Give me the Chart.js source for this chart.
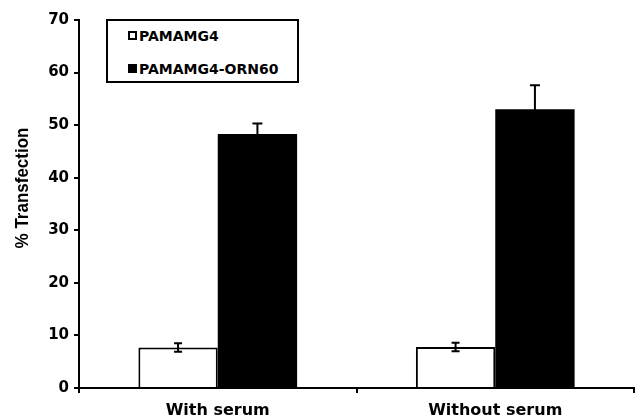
<!DOCTYPE html>
<html>
<head>
<meta charset="utf-8">
<script src="https://cdn.jsdelivr.net/npm/chart.js@4"></script>
<style>
  html, body { margin: 0; padding: 0; background: #fff; }
  #wrap { position: relative; width: 640px; height: 420px; }
  #legend {
    position: absolute; left: 106px; top: 19px; width: 193px; height: 64px;
    box-sizing: border-box; border: 2px solid #000; background: #fff;
    font: bold 14px "DejaVu Sans", sans-serif; color: #000;
  }
  .item { position: absolute; left: 20px; height: 16px; line-height: 16px; white-space: nowrap; }
  .sw { display: inline-block; width: 9px; height: 9px; box-sizing: border-box; border: 2px solid #000; margin-right: 2px; vertical-align: 1px; }
</style>
</head>
<body>
<div id="wrap">
  <canvas id="chart" width="640" height="420"></canvas>
  <div id="legend"></div>
</div>
<script>
// data
const categories = ['With serum', 'Without serum'];
const seriesNames = ['PAMAMG4', 'PAMAMG4-ORN60'];
const pamamValues = [7.7, 7.8];
const pamamErrors = [0.8, 0.8];
const ornValues = [48.3, 53.0];
const ornErrors = [2.0, 4.6];
const yMin = 0, yMax = 70, yStep = 10;
const yTitle = '% Transfection';

// legend built from the series names
const fills = ['#fff', '#000'];
const legendDiv = document.getElementById('legend');
seriesNames.forEach((name, i) => {
  const it = document.createElement('div');
  it.className = 'item';
  it.style.top = (i === 0 ? 7 : 40) + 'px';
  const sw = document.createElement('span');
  sw.className = 'sw';
  sw.style.background = fills[i];
  it.appendChild(sw);
  it.appendChild(document.createTextNode(name));
  legendDiv.appendChild(it);
});

// error bars drawn through the y scale
const errorBars = {
  id: 'errorBars',
  afterDatasetsDraw(chart) {
    const ctx = chart.ctx;
    const y = chart.scales.y;
    chart.data.datasets.forEach((ds, di) => {
      const meta = chart.getDatasetMeta(di);
      meta.data.forEach((bar, i) => {
        const v = ds.data[i], e = ds.errors[i];
        const top = y.getPixelForValue(v + e);
        const bot = y.getPixelForValue(v - e);
        const half = di === 0 ? 4 : 5;
        ctx.save();
        ctx.strokeStyle = '#000';
        ctx.lineWidth = 2;
        ctx.beginPath();
        ctx.moveTo(bar.x, top); ctx.lineTo(bar.x, bot);
        ctx.moveTo(bar.x - half, top); ctx.lineTo(bar.x + half, top);
        ctx.moveTo(bar.x - half, bot); ctx.lineTo(bar.x + half, bot);
        ctx.stroke();
        ctx.restore();
      });
    });
  }
};

// y title placed like the original (a bit above centre)
const sideTitle = {
  id: 'sideTitle',
  afterDraw(chart) {
    const ctx = chart.ctx;
    ctx.save();
    ctx.translate(23, 188);
    ctx.rotate(-Math.PI / 2);
    ctx.scale(1, 1.12);
    ctx.font = 'bold 17px "Liberation Sans", Arial, sans-serif';
    ctx.fillStyle = '#000';
    ctx.textAlign = 'center';
    ctx.textBaseline = 'middle';
    ctx.fillText(yTitle, 0, 0);
    ctx.restore();
  }
};

const ctx = document.getElementById('chart').getContext('2d');
new Chart(ctx, {
  type: 'bar',
  data: {
    labels: categories,
    datasets: [
      {
        label: seriesNames[0],
        data: pamamValues,
        errors: pamamErrors,
        backgroundColor: '#fff',
        borderColor: '#000',
        borderWidth: 2,
        categoryPercentage: 0.572,
        barPercentage: 1
      },
      {
        label: seriesNames[1],
        data: ornValues,
        errors: ornErrors,
        backgroundColor: '#000',
        borderColor: '#000',
        borderWidth: 0,
        categoryPercentage: 0.572,
        barPercentage: 1
      }
    ]
  },
  options: {
    responsive: false,
    animation: false,
    devicePixelRatio: 1,
    layout: { padding: { top: 20, right: 6, left: 0, bottom: 0 } },
    plugins: {
      legend: { display: false },
      tooltip: { enabled: false }
    },
    scales: {
      x: {
        offset: true,
        grid: { offset: true, drawOnChartArea: false, drawTicks: true, tickLength: 5, color: '#000', lineWidth: 2 },
        border: { display: true, color: '#000', width: 2 },
        ticks: { color: '#000', padding: 8, font: { family: 'DejaVu Sans', weight: 'bold', size: 16 } },
        afterFit(scale) { scale.height = 32; }
      },
      y: {
        min: yMin,
        max: yMax,
        grid: { drawOnChartArea: false, drawTicks: true, tickLength: 5, color: '#000', lineWidth: 2 },
        border: { display: true, color: '#000', width: 2 },
        ticks: { stepSize: yStep, color: '#000', padding: 5, font: { family: 'DejaVu Sans', weight: 'bold', size: 15 } },
        afterFit(scale) { scale.width = 79; }
      }
    }
  },
  plugins: [errorBars, sideTitle]
});
</script>
</body>
</html>
